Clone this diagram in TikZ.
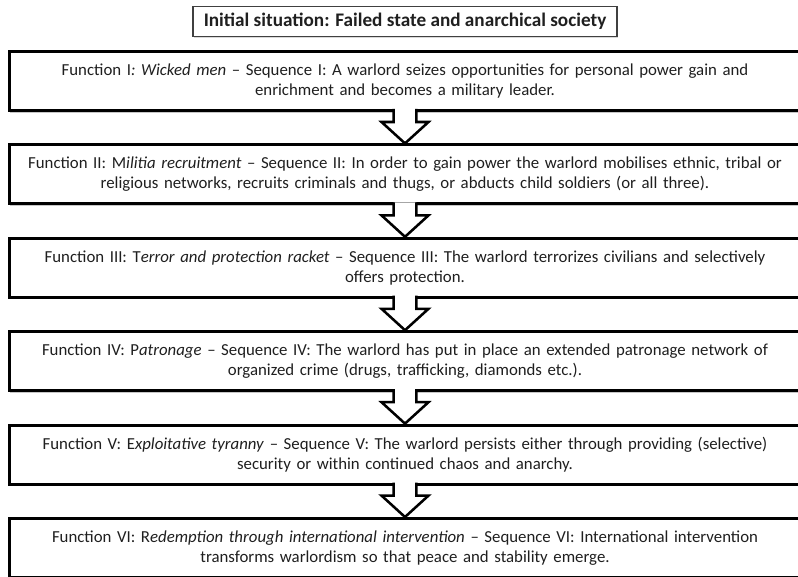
\documentclass[tikz,border=0pt]{standalone}
\usepackage{fontspec}
\setmainfont{Carlito}
\usepackage{tikz}
\usetikzlibrary{calc, positioning, shadows}

\tikzset{
	funcbox/.style={draw, line width=2.25pt, fill=white, text=black!88,
		minimum width=593.25pt, minimum height=44.25pt, inner sep=0pt,
		text width=588pt, align=center, font=\fontsize{12.6}{15}\selectfont,
		drop shadow={shadow xshift=0.6pt, shadow yshift=-1.6pt, fill=black, opacity=0.22}},
	titlebox/.style={draw=black!75, line width=1.1pt, fill=white, text=black!88,
		minimum height=22.15pt, inner xsep=8pt, inner ysep=0pt,
		font=\fontsize{14.4}{15}\selectfont\bfseries,
		drop shadow={shadow xshift=0.5pt, shadow yshift=-1.2pt, fill=black, opacity=0.15}},
	hollow/.style={draw, fill=white, line width=1.9pt, line join=miter,
		to path={($(\tikztostart)+(-8.6pt,2.3pt)$) -- ($(\tikztostart)+(-8.6pt,-7.5pt)$)
			-- ($(\tikztostart)+(-17.6pt,-7.5pt)$) -- (\tikztotarget)
			-- ($(\tikztostart)+(17.6pt,-7.5pt)$) -- ($(\tikztostart)+(8.6pt,-7.5pt)$)
			-- ($(\tikztostart)+(8.6pt,2.3pt)$)}}
}

\begin{document}
\begin{tikzpicture}
		\useasboundingbox (0,0) rectangle (598.5pt,-432pt);
		\node[funcbox] (f1) at (303.75pt,-60.75pt) {Function I\textit{: Wicked men} – Sequence I: A warlord seizes opportunities for personal power gain and\\ enrichment and becomes a military leader.};
		\node[titlebox, above=9.75pt of f1] (start) {Initial situation: Failed state and anarchical society};
		\node[funcbox, below=23.55pt of f1] (f2) {Function II: M\textit{ilitia recruitment} – Sequence II: In order to gain power the warlord mobilises ethnic, tribal or\\ religious networks, recruits criminals and thugs, or abducts child soldiers (or all three).};
		\node[funcbox, below=23.55pt of f2] (f3) {Function III: T\textit{error and protection racket} – Sequence III: The warlord terrorizes civilians and selectively\\ offers protection.};
		\node[funcbox, below=23.55pt of f3] (f4) {Function IV: P\textit{atronage} – Sequence IV: The warlord has put in place an extended patronage network of\\ organized crime (drugs, trafficking, diamonds etc.).};
		\node[funcbox, below=23.55pt of f4] (f5) {Function V: E\textit{xploitative tyranny} – Sequence V: The warlord persists either through providing (selective)\\ security or within continued chaos and anarchy.};
		\node[funcbox, below=23.55pt of f5] (f6) {Function VI: R\textit{edemption through international intervention} – Sequence VI: International intervention\\ transforms warlordism so that peace and stability emerge.};
		\draw[hollow] (f1.south) to (f2.north);
		\draw[hollow] (f2.south) to (f3.north);
		\draw[hollow] (f3.south) to (f4.north);
		\draw[hollow] (f4.south) to (f5.north);
		\draw[hollow] (f5.south) to (f6.north);
	\end{tikzpicture}
\end{document}
